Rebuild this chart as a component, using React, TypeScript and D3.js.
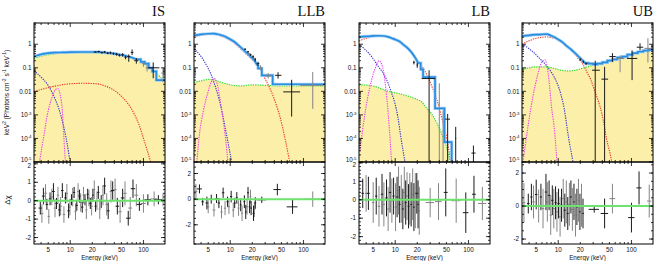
import React from "react";
import * as d3 from "d3";

type Pt = [number, number];
// energy, energy low, energy high, value, value low, value high
type Cross = [number, number, number, number, number, number];
// energy, half width, residual, error
type Res = [number, number, number, number];

const panelNames = ["IS", "LLB", "LB", "UB"];
const xTickLabels = [5, 10, 20, 50, 100];
const topTickValues = [1, 0.1, 0.01, 1e-3, 1e-4, 1e-5];

// ---------- IS ----------
const isTotalCurve: Pt[] = [
  [3.2, 0.3], [3.6, 0.34], [4, 0.37], [4.5, 0.4], [5, 0.42], [6, 0.44], [8, 0.45], [10, 0.46],
  [15, 0.47], [20, 0.47], [25, 0.46], [30, 0.44], [40, 0.4], [50, 0.35], [60, 0.31], [70, 0.27], [80, 0.23],
];
const isTotalSteps: Pt[] = [
  [80, 0.23], [92, 0.18], [104, 0.15], [118, 0.1], [132, 0.07], [150, 0.03],
];
const isGreen: Pt[] = [
  [3.2, 0.25], [4, 0.31], [5, 0.36], [6, 0.39], [8, 0.42], [10, 0.43], [15, 0.44], [20, 0.44],
  [30, 0.42], [40, 0.39], [50, 0.35], [60, 0.31], [70, 0.27], [80, 0.23], [100, 0.16], [120, 0.11],
  [150, 0.06], [197, 0.024],
];
const isRed: Pt[] = [
  [3.2, 0.0095], [4, 0.012], [5.3, 0.015], [7, 0.018], [10, 0.021], [15, 0.022], [23, 0.021],
  [30, 0.017], [38, 0.012], [47, 0.0075], [57, 0.004], [66, 0.0022], [76, 0.001], [88, 3.5e-4],
  [100, 1e-4], [115, 2.5e-5], [128, 8e-6],
];
const isDisk: Pt[] = [
  [3.2, 0.075], [4, 0.04], [5, 0.018], [6, 0.006], [7, 0.0018], [8, 4e-4], [9, 7e-5], [10, 1e-5], [10.5, 5e-6],
];
const isLine: Pt[] = [
  [3.8, 1e-5], [4.3, 1e-4], [5, 1.5e-3], [5.7, 6e-3], [6.3, 0.012], [6.8, 0.013], [7.3, 0.007],
  [7.8, 1.5e-3], [8.2, 1e-4], [8.6, 1e-5],
];
const isDataBlack: Cross[] = [
  [22, 21, 23, 0.47, 0.44, 0.5], [24.5, 23.5, 25.5, 0.49, 0.45, 0.53], [27, 26, 28, 0.44, 0.41, 0.48],
  [29.5, 28.5, 30.5, 0.47, 0.43, 0.52], [32.5, 31.5, 33.5, 0.42, 0.38, 0.46], [35.5, 34.5, 36.5, 0.44, 0.4, 0.49],
  [39, 38, 40, 0.4, 0.36, 0.45], [43, 41.5, 44.5, 0.38, 0.33, 0.43], [47, 45.5, 48.5, 0.34, 0.3, 0.39],
  [52, 50, 54, 0.36, 0.3, 0.42], [57, 55, 59, 0.28, 0.23, 0.33], [63, 60, 66, 0.3, 0.18, 0.37],
  [70, 67, 73, 0.45, 0.35, 0.6], [80, 75, 85, 0.2, 0.15, 0.26], [136, 115, 165, 0.1, 0.036, 0.17],
];
const isDataGray: Cross[] = [
  [100, 95, 106, 0.15, 0.11, 0.19], [112, 107, 118, 0.1, 0.07, 0.14], [185, 175, 197, 0.06, 0.025, 0.1],
];
const isResBlack: Res[] = [
  [3.9, 0.2, -0.4, 0.35], [4.3, 0.2, 0.25, 0.45], [4.8, 0.2, -0.2, 0.3], [5.3, 0.2, 0.1, 0.35],
  [5.9, 0.25, 0.5, 0.45], [6.5, 0.25, -0.15, 0.3], [7.1, 0.25, -0.5, 0.35], [7.8, 0.3, 0.55, 0.4],
  [8.6, 0.3, 0.15, 0.3], [9.5, 0.35, -0.55, 0.4], [10.4, 0.35, 0.05, 0.3], [11.3, 0.4, 0.45, 0.3],
  [12.3, 0.4, -0.25, 0.3], [13.4, 0.45, 0.25, 0.35], [14.6, 0.5, -0.35, 0.3], [15.9, 0.5, 0.05, 0.3],
  [17.3, 0.55, 0.35, 0.3], [18.8, 0.6, -0.15, 0.3], [20.4, 0.6, 0.3, 0.35], [22.2, 0.7, -0.3, 0.3],
  [24.2, 0.8, 0.45, 0.35], [26.5, 0.9, -0.05, 0.35], [29.5, 1.2, 0.8, 0.45], [33, 1.5, -0.55, 0.45],
  [38, 2, 0.55, 0.5], [44, 2.5, -0.3, 0.45], [52, 3, 0.15, 0.5], [62, 4, -0.95, 0.4],
  [72, 5, 0.65, 0.5], [88, 7, -0.2, 0.35], [115, 12, 0.05, 0.3], [160, 20, 0.05, 0.25],
];
const isResGray: Res[] = [
  [4.1, 0.2, -0.7, 0.5], [4.6, 0.2, 0.4, 0.5], [5.1, 0.2, -0.85, 0.4], [5.6, 0.25, 0.2, 0.45],
  [6.2, 0.25, -0.4, 0.5], [6.8, 0.25, 0.3, 0.45], [7.4, 0.3, -0.3, 0.5], [8.2, 0.3, -0.75, 0.45],
  [9, 0.3, 0.4, 0.5], [9.9, 0.35, -0.35, 0.45], [10.8, 0.35, 0.2, 0.5], [11.8, 0.4, -0.6, 0.45],
  [12.8, 0.4, 0.5, 0.45], [13.9, 0.45, -0.1, 0.5], [15.2, 0.5, 0.3, 0.45], [16.6, 0.5, -0.5, 0.5],
  [18, 0.55, 0.15, 0.45], [19.6, 0.6, -0.3, 0.5], [21.3, 0.6, 0.6, 0.5], [23.2, 0.7, 0, 0.5],
  [25.3, 0.8, -0.45, 0.55], [28, 1, 0.3, 0.55], [31.5, 1.3, -0.2, 0.6], [36, 1.6, 0.5, 0.6],
  [41, 2, 0.6, 0.6], [48, 2.5, -0.6, 0.6], [56, 3, 0.4, 0.65], [66, 4, -0.4, 0.6],
  [80, 5, 0.3, 0.6], [100, 8, -0.15, 0.5], [140, 15, 0.1, 0.4], [185, 12, 0.05, 0.35],
];

// ---------- LLB ----------
const llbTotalCurve: Pt[] = [
  [3.2, 2.4], [4, 2.65], [5, 2.8], [6, 2.85], [7, 2.6], [8, 2.3], [9, 1.95], [10, 1.65], [11.5, 1.25],
  [13, 0.9], [15, 0.6], [17, 0.42], [19, 0.3], [21, 0.22], [22.5, 0.16], [24, 0.12],
];
const llbTotalSteps: Pt[] = [[24, 0.095], [27, 0.048], [38, 0.02]];
const llbGreen: Pt[] = [
  [3.2, 0.024], [4, 0.028], [5, 0.032], [6, 0.031], [7, 0.026], [8.8, 0.021], [11, 0.018], [14, 0.017],
  [20, 0.019], [30, 0.018], [50, 0.017], [100, 0.017], [197, 0.017],
];
const llbRed: Pt[] = [
  [3.2, 2.05], [4, 2.4], [5, 2.6], [6, 2.6], [7, 2.4], [8.8, 1.8], [11, 1.2], [13.5, 0.7], [17, 0.35],
  [20, 0.22], [23, 0.14], [28, 0.05], [35, 0.013], [42, 3e-3], [48.5, 7e-4], [56, 1e-4], [65, 1e-5],
  [68, 5e-6],
];
const llbDisk: Pt[] = [
  [3.2, 0.65], [4, 0.3], [4.8, 0.12], [5.5, 0.05], [6.3, 0.015], [7, 0.005], [7.8, 0.0012], [8.6, 2.5e-4],
  [9.5, 5e-5], [10.5, 1e-5], [11, 5e-6],
];
const llbLine: Pt[] = [
  [3.5, 1e-5], [3.8, 1.5e-4], [4.3, 1.5e-3], [4.9, 8e-3], [5.5, 0.025], [6, 0.035], [6.6, 0.022],
  [7.3, 4e-3], [8, 6e-4], [8.7, 8e-5], [9.3, 1e-5],
];
const llbDataBlack: Cross[] = [
  [16, 15.5, 16.5, 0.62, 0.58, 0.66], [17.5, 17, 18, 0.48, 0.44, 0.52], [19, 18.5, 19.5, 0.36, 0.32, 0.4],
  [20.5, 20, 21, 0.3, 0.26, 0.34], [22, 21.5, 22.5, 0.22, 0.19, 0.26], [24, 23, 25, 0.15, 0.12, 0.18],
  [45, 41, 50, 0.048, 0.035, 0.065], [69, 53, 90, 0.0095, 8.5e-4, 0.031],
];
const llbDataGray: Cross[] = [
  [18, 17.5, 18.5, 0.4, 0.36, 0.44], [21, 20.5, 21.5, 0.25, 0.22, 0.29], [26, 25, 27, 0.1, 0.08, 0.13],
  [33, 30, 36, 0.045, 0.035, 0.06], [134, 90, 187, 0.018, 0.0018, 0.067],
];
const llbResBlack: Res[] = [
  [3.8, 0.3, 0.8, 0.35], [4.2, 0.15, -0.2, 0.3], [4.8, 0.2, -0.3, 0.5], [5.5, 0.2, 0, 0.35],
  [6.5, 0.25, 0.05, 0.35], [7, 0.25, -0.3, 0.4], [8, 0.3, 0.5, 0.4], [9.2, 0.3, -0.2, 0.4],
  [10.3, 0.35, 0.2, 0.45], [11.5, 0.4, -0.3, 0.4], [12.3, 0.4, 0.1, 0.45], [13.9, 0.4, -0.45, 0.5],
  [15.6, 0.45, -0.2, 0.5], [16.3, 0.45, -1, 0.55], [17.5, 0.5, 0.5, 0.45], [18.4, 0.5, -0.6, 0.5],
  [19.3, 0.5, -0.7, 0.55], [20.8, 0.6, -1.1, 0.6], [22, 0.6, -0.3, 0.45], [27, 4, -0.05, 0.25],
  [44, 5, 0.75, 0.45], [71, 12, -0.6, 0.55],
];
const llbResGray: Res[] = [
  [3.4, 0.15, 0.6, 0.6], [5, 0.2, -0.6, 0.5], [6, 0.25, -0.85, 0.5], [7.6, 0.3, -1, 0.5],
  [8.5, 0.3, -0.7, 0.55], [9.6, 0.35, -0.6, 0.55], [11, 0.4, -0.85, 0.55], [13, 0.4, -0.7, 0.6],
  [14.5, 0.45, -1.1, 0.6], [17, 0.5, -0.6, 0.6], [18.9, 0.5, 0.2, 0.55], [21.4, 0.6, -0.8, 0.6],
  [134, 35, 0, 0.6],
];

// ---------- LB ----------
const lbTotalCurve: Pt[] = [
  [3.2, 2.05], [4, 2.15], [5, 2.25], [6, 2.3], [7, 2.25], [8, 2.05], [9, 1.8], [10, 1.6], [11.5, 1.3],
  [13, 0.95], [15, 0.65], [17, 0.42], [19, 0.25], [20.5, 0.16],
];
const lbTotalSteps: Pt[] = [
  [20.5, 0.16], [22.3, 0.085], [24, 0.04], [35, 0.0019], [47, 7e-5], [59, 1e-7],
];
const lbGreen: Pt[] = [
  [3.2, 0.019], [4, 0.0185], [5, 0.017], [6, 0.014], [7.3, 0.011], [8.8, 0.0095], [11, 0.0082],
  [13.5, 0.0069], [17, 0.0055], [20, 0.0045], [23, 0.0036], [26, 0.0022], [31.5, 0.0011], [37, 4.5e-4],
  [43, 1.6e-4], [53, 2.3e-5], [57, 8e-6],
];
const lbRed: Pt[] = [
  [3.2, 1.4], [4, 1.8], [5, 2.1], [6, 2.2], [7.5, 2.1], [9, 1.85], [10.8, 1.5], [13, 1], [15.9, 0.56],
  [19, 0.27], [23.5, 0.11], [28, 0.04], [32, 0.015], [37, 0.0045], [43, 8e-4], [50, 1.2e-4],
  [56, 1.6e-5], [58, 7e-6],
];
const lbDisk: Pt[] = [
  [3.2, 1], [4, 0.55], [4.8, 0.29], [5.8, 0.12], [6.9, 0.057], [8, 0.022], [8.8, 0.0095], [9.8, 0.0035],
  [10.8, 9e-4], [11.9, 1.2e-4], [12.8, 3e-5], [13.6, 1e-5], [14, 6e-6],
];
const lbLine: Pt[] = [
  [3.3, 3e-5], [3.8, 8.4e-4], [4.5, 0.015], [5.3, 0.093], [6, 0.2], [6.7, 0.11], [7.4, 0.015],
  [8, 1.2e-3], [8.5, 1e-4], [8.9, 1e-5],
];
const lbDataBlack: Cross[] = [
  [18, 17.5, 18.5, 0.17, 0.14, 0.2], [20, 19.5, 20.5, 0.13, 0.1, 0.16],
  [29, 23, 35, 0.035, 1e-6, 0.079], [52, 48, 56, 6.6e-4, 1e-6, 1.1e-3], [67, 66, 68, 1e-4, 1e-6, 3.1e-4],
  [117, 110, 125, 2.4e-5, 1e-6, 5e-5],
];
const lbDataGray: Cross[] = [
  [40, 39.5, 40.5, 0.003, 1e-6, 0.022], [45, 44.5, 45.5, 2e-4, 1e-6, 1.5e-3],
];
const lbResBlack: Res[] = [
  [3.6, 0.15, 0.35, 0.8], [4.3, 0.2, 0.35, 0.9], [5.5, 0.2, 0.2, 1], [6.6, 0.25, 0.3, 1.1],
  [7.6, 0.3, 0.1, 1], [8.5, 0.3, 0.4, 1.1], [9.5, 0.3, 0.2, 1], [10.6, 0.35, 0.15, 1.1],
  [11.5, 0.35, -0.25, 1], [12.7, 0.4, -0.5, 1.1], [13.9, 0.4, -0.15, 1.2], [15.2, 0.45, -0.35, 1.2],
  [16.5, 0.45, -0.25, 1.2], [18, 0.5, -0.4, 1.3], [19.7, 0.9, 0.35, 1.1], [20.5, 0.5, -0.25, 1.3],
  [49, 3, 0.4, 1.3], [92, 8, -0.7, 1.1], [119, 7, 0.3, 1],
];
const lbResGray: Res[] = [
  [4, 0.15, 0.35, 1], [5, 0.2, -0.15, 1.1], [6, 0.25, -0.35, 1.1], [7, 0.25, -0.25, 1.2],
  [8, 0.3, -0.5, 1.2], [9, 0.3, -0.05, 1.2], [10.1, 0.35, -0.4, 1.3], [11.1, 0.35, 0.5, 1.3],
  [12.1, 0.4, 0.05, 1.3], [13.3, 0.4, 0.4, 1.4], [14.5, 0.45, 0.2, 1.3], [15.8, 0.45, 0.05, 1.4],
  [17.3, 0.5, 0.3, 1.4], [18.8, 0.5, -0.05, 1.5], [21.3, 0.6, -0.6, 1.3], [30, 4, -0.15, 0.8],
  [39, 4, -0.1, 1], [68, 10, -0.05, 1.2], [155, 20, -0.2, 0.9],
];

// ---------- UB ----------
const ubTotalCurve: Pt[] = [
  [3.2, 2.2], [4, 2.4], [5, 2.55], [6, 2.65], [7, 2.7], [8, 2.3], [9, 1.95], [10, 1.6], [11.5, 1.2],
  [13, 0.85], [15, 0.6], [17, 0.42], [19, 0.3], [21, 0.22], [23, 0.17],
];
const ubTotalSteps: Pt[] = [
  [23, 0.16], [26, 0.15], [30, 0.14], [34, 0.15], [40, 0.17], [47, 0.2], [55, 0.23], [64, 0.27],
  [75, 0.3], [88, 0.36], [104, 0.42], [122, 0.48], [145, 0.54], [170, 0.58],
];
const ubGreen: Pt[] = [
  [3.2, 0.084], [4, 0.1], [4.8, 0.11], [6.8, 0.11], [8.8, 0.095], [10.8, 0.08], [13.5, 0.074],
  [16, 0.076], [18.4, 0.084], [25, 0.11], [35, 0.15], [48, 0.2], [65, 0.27], [90, 0.36], [122, 0.47],
  [197, 0.59],
];
const ubRed: Pt[] = [
  [3.2, 1], [4, 1.4], [4.8, 1.74], [5.8, 1.95], [6.8, 2.05], [8.5, 1.85], [10.8, 1.4], [13, 0.9],
  [15.9, 0.47], [18.5, 0.26], [21.5, 0.15], [25, 0.06], [28, 0.03], [31, 0.012], [35, 4.2e-3],
  [39, 1.3e-3], [43, 3e-4], [45.6, 1e-4], [50, 3e-5], [54, 1e-5], [56, 6e-6],
];
const ubDisk: Pt[] = [
  [3.2, 1], [4, 0.65], [4.8, 0.4], [5.8, 0.22], [6.8, 0.13], [7.8, 0.075], [8.8, 0.041], [10.8, 0.008],
  [12, 2e-3], [13.9, 1e-4], [15.9, 1e-5], [16.5, 5e-6],
];
const ubLine: Pt[] = [
  [3.3, 1e-5], [3.8, 2.3e-4], [4.5, 5.8e-3], [5.3, 0.057], [6, 0.18], [6.6, 0.22], [7.3, 0.057],
  [8.1, 2.2e-3], [9, 1.5e-4], [9.6, 1e-5],
];
const ubDataBlack: Cross[] = [
  [20, 19.5, 20.5, 0.22, 0.2, 0.25], [22, 21.5, 22.5, 0.18, 0.16, 0.2], [24, 23.5, 25, 0.15, 0.13, 0.17],
  [32, 29, 37, 0.079, 1e-6, 0.2], [43, 39, 48, 0.033, 1e-6, 0.11], [55, 50, 61, 0.3, 0.18, 0.42],
  [102, 87, 120, 0.25, 0.03, 0.55], [131, 118, 145, 0.75, 0.55, 1.1],
];
const ubDataGray: Cross[] = [
  [70, 62, 80, 0.25, 0.065, 0.34], [168, 150, 190, 0.67, 0.17, 1.8],
];
const ubResBlack: Res[] = [
  [3.9, 0.15, 0.15, 0.6], [4.3, 0.15, 0.55, 0.8], [5, 0.2, 0.7, 0.9], [5.8, 0.2, 0.55, 0.8],
  [6.8, 0.25, 0.85, 1.1], [7.5, 0.3, 0.65, 0.9], [8.3, 0.3, 0.35, 0.9], [9.2, 0.3, 0.2, 1],
  [10.1, 0.35, 0.15, 0.9], [11.1, 0.35, 0.05, 1], [12.3, 0.4, -0.25, 1], [13.5, 0.4, -0.45, 1],
  [14.9, 0.45, 0.55, 1], [16.4, 0.45, 0.25, 1.1], [18, 0.5, -0.05, 1.1], [19.8, 0.5, -0.35, 1.1],
  [21.8, 0.6, -0.45, 0.9], [31, 5, -0.2, 0.2], [43, 5, -0.45, 0.9], [100, 10, -0.7, 0.9],
  [127, 10, 1.1, 1],
];
const ubResGray: Res[] = [
  [3.4, 0.15, 0.2, 1.2], [4.6, 0.2, 0.25, 1], [5.4, 0.2, 0, 1], [6.2, 0.25, -0.15, 1.2],
  [7.1, 0.25, 0.25, 1.2], [7.9, 0.3, -0.55, 1.2], [8.7, 0.3, -0.15, 1.2], [9.6, 0.35, -0.35, 1.2],
  [10.6, 0.35, -0.65, 1.2], [11.7, 0.4, 0.45, 1.2], [12.9, 0.4, 0.25, 1.3], [14.2, 0.45, 0.1, 1.3],
  [15.6, 0.45, -0.2, 1.3], [17.2, 0.5, -0.55, 1.3], [18.9, 0.5, 0.35, 1.3], [20.8, 0.6, 0.05, 1.3],
  [55, 5, 0.45, 0.9], [175, 12, 0.3, 1],
];

const resDomains: [number, number][] = [[-2.35, 2.1], [-3.5, 2.9], [-2.4, 2.05], [-2.3, 2.67]];
const resTicks = [[-2, -1, 0, 1, 2], [-2, 0, 2], [-2, -1, 0, 1, 2], [-2, 0, 2]];
const resMinorStep = [0.2, 0.5, 0.2, 0.5];

const panels = [
  { curve: isTotalCurve, steps: isTotalSteps, green: isGreen, red: isRed, disk: isDisk, line: isLine, black: isDataBlack, gray: isDataGray, rb: isResBlack, rg: isResGray },
  { curve: llbTotalCurve, steps: llbTotalSteps, green: llbGreen, red: llbRed, disk: llbDisk, line: llbLine, black: llbDataBlack, gray: llbDataGray, rb: llbResBlack, rg: llbResGray },
  { curve: lbTotalCurve, steps: lbTotalSteps, green: lbGreen, red: lbRed, disk: lbDisk, line: lbLine, black: lbDataBlack, gray: lbDataGray, rb: lbResBlack, rg: lbResGray },
  { curve: ubTotalCurve, steps: ubTotalSteps, green: ubGreen, red: ubRed, disk: ubDisk, line: ubLine, black: ubDataBlack, gray: ubDataGray, rb: ubResBlack, rg: ubResGray },
];

const W = 655;
const H = 261;
const panelLeft = [34, 194, 359, 522];
const panelW = 131;
const topY = 23;
const midY = 162;
const botY = 244;
const eMin = 3.2;
const eMax = 197;
const sans = "'Liberation Sans', Arial, sans-serif";

const col = {
  fill: "#fcefaa",
  total: "#2a8de2",
  halo: "#a8d4f4",
  green: "#35dd35",
  red: "#ee3322",
  disk: "#3035cc",
  line: "#ee3cee",
  black: "#1a1a1a",
  gray: "#858585",
  zero: "#6ee26e",
};

const dotted = "1.3 1.1";

function Panel({ i }: { i: number }) {
  const p = panels[i];
  const x0 = panelLeft[i];
  const x = d3.scaleLog().domain([eMin, eMax]).range([x0, x0 + panelW]);
  const y = d3.scaleLog().domain([1e-5, 8]).range([midY, topY]);
  const yr = d3.scaleLinear().domain(resDomains[i]).range([botY, midY]);

  const smooth = d3.line<Pt>().x((d) => x(d[0])).y((d) => y(d[1])).curve(d3.curveMonotoneX);
  const step = d3.line<Pt>().x((d) => x(d[0])).y((d) => y(d[1])).curve(d3.curveStepAfter);
  const area = d3
    .area<Pt>()
    .x((d) => x(d[0]))
    .y0(midY + 2)
    .y1((d) => y(d[1]))
    .curve(d3.curveMonotoneX);

  const lastCurve = p.curve[p.curve.length - 1];
  const stepPts: Pt[] = [lastCurve, ...p.steps, [eMax, p.steps[p.steps.length - 1][1]]];
  const totalD = (smooth(p.curve) ?? "") + (step(stepPts) ?? "").replace(/^M/, "L");

  // ticks
  const xMajor = [10, 100];
  const xMinor = [4, 5, 6, 7, 8, 9, 20, 30, 40, 50, 60, 70, 80, 90];
  const yTopTicks: { v: number; major: boolean }[] = [];
  for (let dec = -5; dec <= 0; dec++) {
    for (let m = 1; m <= 9; m++) {
      const v = m * Math.pow(10, dec);
      if (v <= 8) yTopTicks.push({ v, major: m === 1 });
    }
  }
  const [r0, r1] = resDomains[i];
  const rMinor = d3.range(Math.ceil(r0 / resMinorStep[i]) * resMinorStep[i], r1, resMinorStep[i]);

  const clipTop = `clipTop${i}`;
  const clipRes = `clipRes${i}`;

  const cross = (d: Cross, c: string, k: string) => (
    <g key={k} stroke={c} strokeWidth={1}>
      <line x1={x(d[1])} x2={x(d[2])} y1={y(d[3])} y2={y(d[3])} />
      <line x1={x(d[0])} x2={x(d[0])} y1={y(d[4])} y2={y(d[5])} />
    </g>
  );
  const resCross = (d: Res, c: string, k: string) => (
    <g key={k} stroke={c} strokeWidth={1}>
      <line x1={x(d[0] - d[1])} x2={x(d[0] + d[1])} y1={yr(d[2])} y2={yr(d[2])} />
      <line x1={x(d[0])} x2={x(d[0])} y1={yr(d[2] - d[3])} y2={yr(d[2] + d[3])} />
    </g>
  );

  return (
    <g>
      <defs>
        <clipPath id={clipTop}>
          <rect x={x0} y={topY} width={panelW} height={midY - topY} />
        </clipPath>
        <clipPath id={clipRes}>
          <rect x={x0} y={midY} width={panelW} height={botY - midY} />
        </clipPath>
      </defs>

      <g clipPath={`url(#${clipTop})`}>
        <path d={area(p.green) ?? ""} fill={col.fill} />
        <path d={smooth(p.red) ?? ""} fill="none" stroke={col.red} strokeWidth={1.1} strokeDasharray={dotted} />
        <path d={smooth(p.disk) ?? ""} fill="none" stroke={col.disk} strokeWidth={1.1} strokeDasharray={dotted} />
        <path d={smooth(p.line) ?? ""} fill="none" stroke={col.line} strokeWidth={1.1} strokeDasharray={dotted} />
        <path d={smooth(p.green) ?? ""} fill="none" stroke={col.green} strokeWidth={1.2} strokeDasharray={dotted} />
        <path d={totalD} fill="none" stroke={col.halo} strokeWidth={3.2} />
        <path d={totalD} fill="none" stroke={col.total} strokeWidth={1.7} />
        {p.gray.map((d, j) => cross(d, col.gray, `g${j}`))}
        {p.black.map((d, j) => cross(d, col.black, `b${j}`))}
      </g>

      <g clipPath={`url(#${clipRes})`}>
        {p.rg.map((d, j) => resCross(d, col.gray, `rg${j}`))}
        {p.rb.map((d, j) => resCross(d, col.black, `rb${j}`))}
        <line x1={x0} x2={x0 + panelW} y1={yr(0)} y2={yr(0)} stroke={col.zero} strokeWidth={2} />
      </g>

      {/* ticks */}
      <g stroke="#000" strokeWidth={0.8}>
        {[...xMajor.map((v) => ({ v, l: 4 })), ...xMinor.map((v) => ({ v, l: 2 }))].map((t, j) => (
          <g key={`xt${j}`}>
            <line x1={x(t.v)} x2={x(t.v)} y1={topY} y2={topY + t.l} />
            <line x1={x(t.v)} x2={x(t.v)} y1={midY} y2={midY - t.l} />
            <line x1={x(t.v)} x2={x(t.v)} y1={midY} y2={midY + t.l} />
            <line x1={x(t.v)} x2={x(t.v)} y1={botY} y2={botY - t.l} />
          </g>
        ))}
        {yTopTicks.map((t, j) => (
          <g key={`yt${j}`}>
            <line x1={x0} x2={x0 + (t.major ? 4 : 2)} y1={y(t.v)} y2={y(t.v)} />
            <line x1={x0 + panelW} x2={x0 + panelW - (t.major ? 4 : 2)} y1={y(t.v)} y2={y(t.v)} />
          </g>
        ))}
        {resTicks[i].map((v, j) => (
          <g key={`rt${j}`}>
            <line x1={x0} x2={x0 + 4} y1={yr(v)} y2={yr(v)} />
            <line x1={x0 + panelW} x2={x0 + panelW - 4} y1={yr(v)} y2={yr(v)} />
          </g>
        ))}
        {rMinor.map((v, j) => (
          <g key={`rm${j}`}>
            <line x1={x0} x2={x0 + 2} y1={yr(v)} y2={yr(v)} />
            <line x1={x0 + panelW} x2={x0 + panelW - 2} y1={yr(v)} y2={yr(v)} />
          </g>
        ))}
      </g>

      {/* frames */}
      <rect x={x0} y={topY} width={panelW} height={midY - topY} fill="none" stroke="#000" strokeWidth={1} />
      <rect x={x0} y={midY} width={panelW} height={botY - midY} fill="none" stroke="#000" strokeWidth={1} />

      {/* tick labels */}
      <g fontFamily={sans} fontSize={6.3} fill="#111">
        {topTickValues.map((v, j) => (
          <text key={`tl${j}`} x={x0 - 2.5} y={y(v) + (v < 2e-5 ? 0.3 : 2.2)} textAnchor="end">
            {v >= 0.01 ? (
              String(v)
            ) : (
              <>
                <tspan>10</tspan>
                <tspan fontSize={4.3} dy={-2.4}>{String(Math.round(Math.log10(v)))}</tspan>
              </>
            )}
          </text>
        ))}
        {resTicks[i].map((v, j) => (
          <text key={`rl${j}`} x={x0 - 3} y={yr(v) + (yr(v) < midY + 4 ? 4.3 : 2.2)} textAnchor="end">
            {String(v)}
          </text>
        ))}
        {xTickLabels.map((v, j) => (
          <text key={`xl${j}`} x={x(v)} y={251.5} textAnchor="middle">
            {String(v)}
          </text>
        ))}
        <text x={x0 + panelW / 2} y={259.5} textAnchor="middle">
          Energy (keV)
        </text>
      </g>

      <text
        x={x0 + panelW}
        y={16}
        textAnchor="end"
        fontFamily="'Liberation Serif', 'Times New Roman', serif"
        fontSize={14.5}
        fill="#111"
      >
        {panelNames[i]}
      </text>
    </g>
  );
}

export default function App() {
  return (
    <svg
      width={W}
      height={H}
      viewBox={`0 0 ${W} ${H}`}
      style={{ position: "absolute", left: 0, top: 0, background: "#fff" }}
    >
      <rect x={0} y={0} width={W} height={H} fill="#fff" />
      {panels.map((_, i) => (
        <Panel key={i} i={i} />
      ))}
      <text
        transform={`translate(8.5, ${(topY + midY) / 2}) rotate(-90)`}
        textAnchor="middle"
        fontFamily={sans}
        fontSize={6.6}
        fill="#111"
      >
        keV<tspan fontSize={4.5} dy={-2.4}>2</tspan>
        <tspan dy={2.4}> (Photons cm</tspan>
        <tspan fontSize={4.5} dy={-2.4}>-2</tspan>
        <tspan dy={2.4}> s</tspan>
        <tspan fontSize={4.5} dy={-2.4}>-1</tspan>
        <tspan dy={2.4}> keV</tspan>
        <tspan fontSize={4.5} dy={-2.4}>-1</tspan>
        <tspan dy={2.4}>)</tspan>
      </text>
      <text
        transform={`translate(10, 200) rotate(-90)`}
        textAnchor="middle"
        fontFamily={sans}
        fontSize={8}
        fill="#111"
      >
        Δχ
      </text>
    </svg>
  );
}
